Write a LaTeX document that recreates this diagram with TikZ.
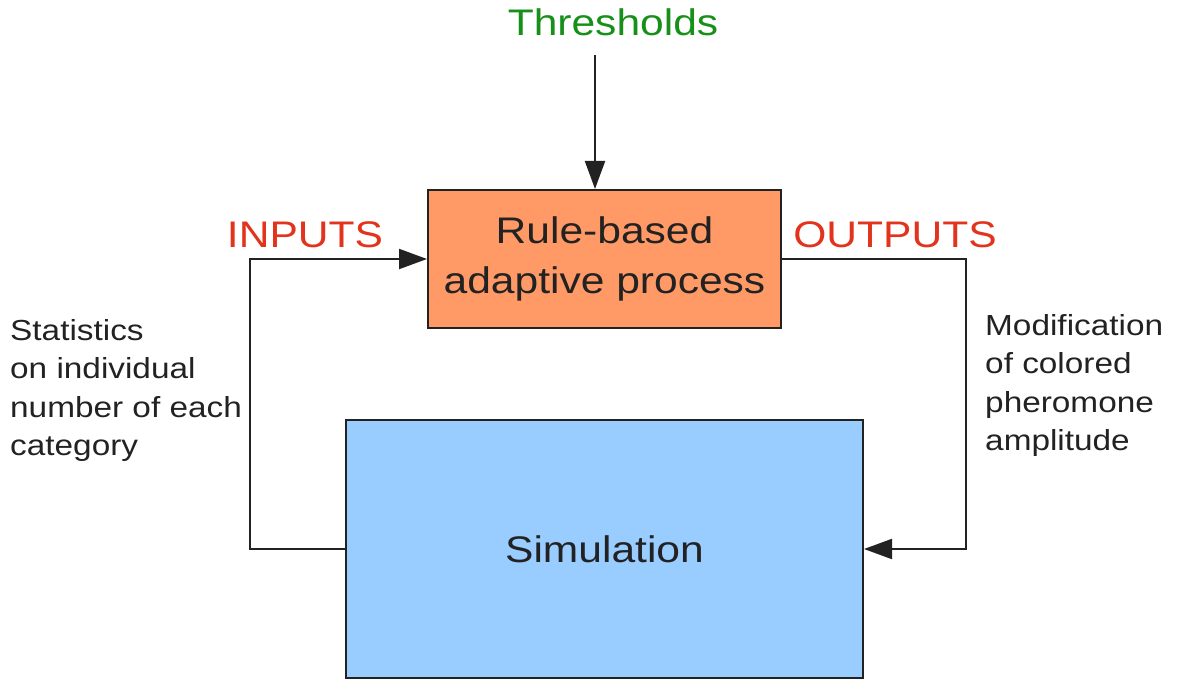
\documentclass[tikz,border=0pt]{standalone}
\usepackage{fontspec}
\setmainfont{Liberation Sans}[FakeStretch=1.15]
\usetikzlibrary{positioning,arrows.meta,calc}
\definecolor{procfill}{HTML}{FF9966}
\definecolor{simfill}{HTML}{99CCFF}
\definecolor{thrgreen}{HTML}{17901A}
\definecolor{iored}{HTML}{E2331C}
\definecolor{ink}{HTML}{222222}

\begin{document}
\begin{tikzpicture}[
  x=1pt,y=-1pt,
  box/.style={draw=ink,line width=2pt,align=center,inner sep=0pt,text=ink,
    font=\fontsize{37}{50}\selectfont},
  lbl/.style={font=\fontsize{37}{44}\selectfont,inner sep=0pt},
  note/.style={font=\fontsize{29}{38.5}\selectfont,align=left,inner sep=0pt,text=ink,anchor=north west},
  arr/.style={-{Triangle[length=28pt,width=20pt]},line width=2pt,ink},
  wire/.style={line width=2pt,ink}
]
\useasboundingbox (0,0) rectangle (1181,682);
\node[box,fill=procfill,minimum width=353pt,minimum height=138pt] (proc) at (604.5,259) {Rule-based\\adaptive process};
\node[box,fill=simfill,minimum width=517pt,minimum height=258pt] (sim) at (604.5,549) {Simulation};
\node[lbl,text=thrgreen] (thr) at (613,22) {Thresholds};
\node[lbl,text=iored] (inp) at (305,235) {INPUTS};
\node[lbl,text=iored] (outp) at (895,235) {OUTPUTS};
\node[note] (stats) at (10,319) {Statistics\\on individual\\number of each\\category};
\node[note] (modif) at (985,314) {Modification\\of colored\\pheromone\\amplitude};
\coordinate (thrend) at (595,55);
\draw[arr] (thrend) -- (thrend |- proc.north);
\draw[arr] (sim.west) -- ++(-95,0) |- (proc.west);
\draw[arr] (proc.east) -- ++(184,0) |- (sim.east);
\end{tikzpicture}
\end{document}
